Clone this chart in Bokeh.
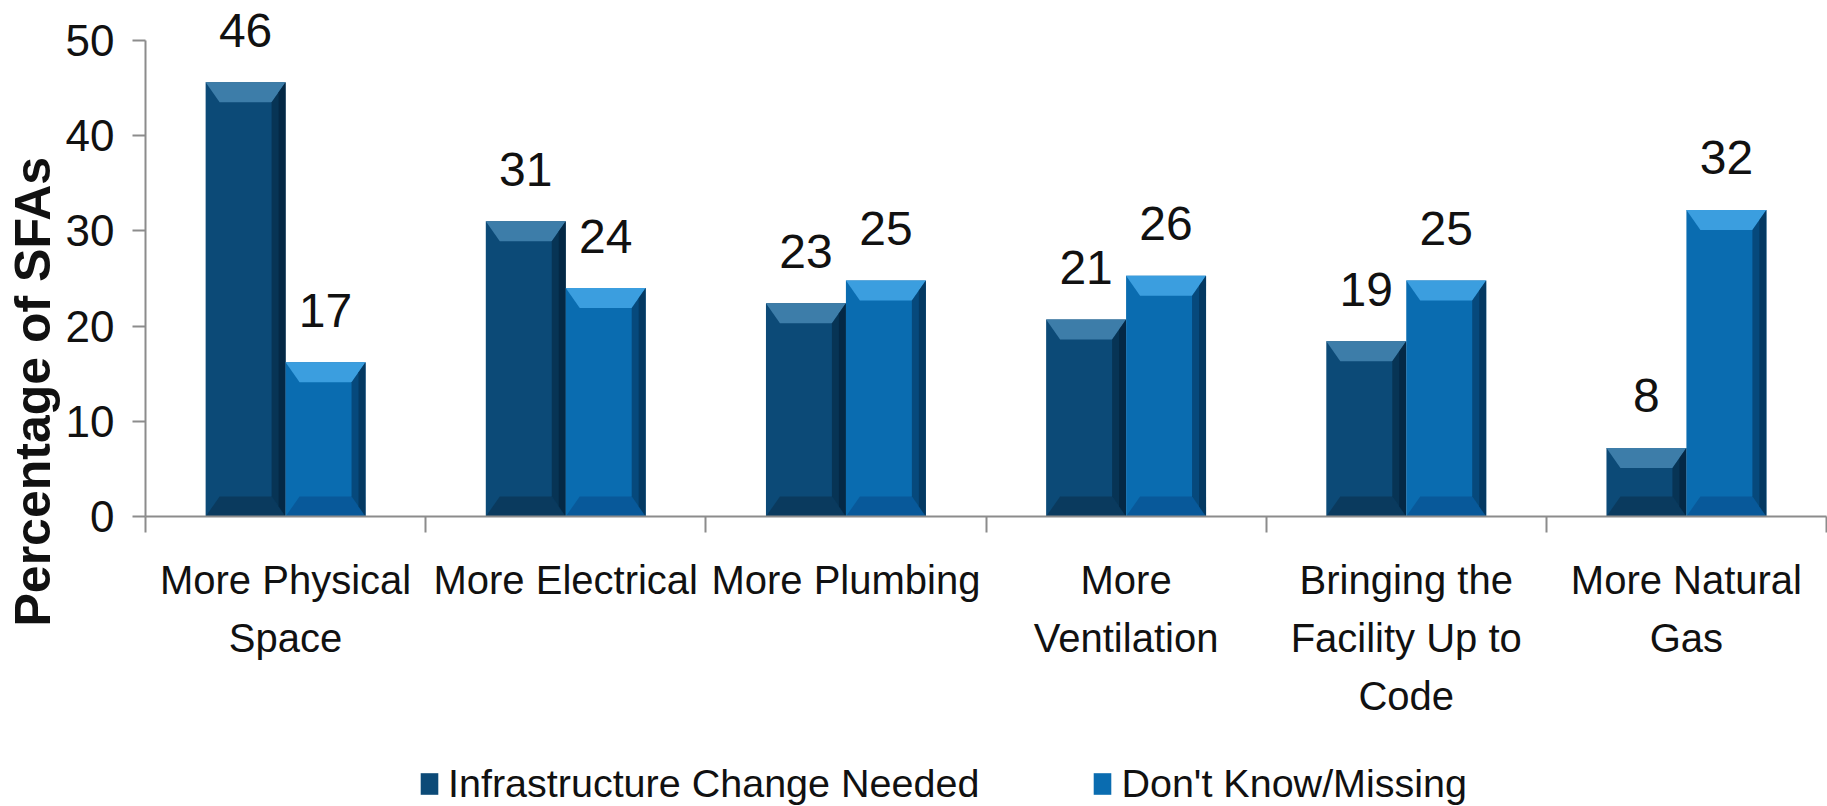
from bokeh.plotting import figure
from bokeh.layouts import column
from bokeh.models import Range1d, FixedTicker, Legend, LegendItem, ColumnDataSource, Title
from bokeh.core.properties import value
from bokeh.embed import file_html
from bokeh.resources import INLINE

# ---------------- data ----------------
categories = ["More Physical Space", "More Electrical", "More Plumbing",
              "More Ventilation", "Bringing the Facility Up to Code", "More Natural Gas"]
tick_labels = ["More Physical\nSpace", "More Electrical", "More Plumbing",
               "More\nVentilation", "Bringing the\nFacility Up to\nCode", "More Natural\nGas"]
series_names = ["Infrastructure Change Needed", "Don't Know/Missing"]
change_needed = [45.6, 31.0, 22.4, 20.7, 18.4, 7.2]
dont_know = [16.2, 24.0, 24.8, 25.3, 24.8, 32.2]
change_labels = ["46", "31", "23", "21", "19", "8"]
dont_know_labels = ["17", "24", "25", "26", "25", "32"]
y_ticks = [0, 10, 20, 30, 40, 50]
y_title = "Percentage of SFAs"

# ---------------- style ----------------
FONT = "Liberation Sans"
W = 1827
MAIN_H, LEG_H = 756, 50
LEFT, RIGHT, TOP, BOTTOM = 144, 1, 0, 240
frame_w = W - LEFT - RIGHT
frame_h = MAIN_H - TOP - BOTTOM
n = len(categories)
y_max_view = 54.2
px_x = frame_w / n
px_y = frame_h / y_max_view
bar_w = 80 / px_x
bx = 14 / px_x
by = 20 / px_y

palettes = [
    dict(body="#0C4A77", top="#3D7DA9", bottom="#0A3A5E", right="#03223A"),
    dict(body="#0A6CB0", top="#3B9EDF", bottom="#08599A", right="#032E52"),
]
AXIS_COLOR = "#8C8C8C"
TEXT_COLOR = "#111111"

p = figure(width=W, height=MAIN_H, output_backend="svg", toolbar_location=None,
           x_range=Range1d(0, n), y_range=Range1d(0, y_max_view),
           min_border_left=LEFT, min_border_right=RIGHT,
           min_border_top=TOP, min_border_bottom=BOTTOM)
p.outline_line_color = None
p.xgrid.visible = False
p.ygrid.visible = False
p.background_fill_color = "white"

series_values = [change_needed, dont_know]
series_labels = [change_labels, dont_know_labels]
for s, (vals, labs) in enumerate(zip(series_values, series_labels)):
    pal = palettes[s]
    lefts = [i + 0.5 - bar_w + s * bar_w for i in range(n)]
    rights = [l + bar_w for l in lefts]
    src = ColumnDataSource(dict(left=lefts, right=rights, top=vals, bottom=[0] * n))
    p.quad(left="left", right="right", top="top", bottom="bottom", source=src,
           fill_color=pal["body"], line_color=None)
    top_xs, top_ys, bot_xs, bot_ys, r_xs, r_ys, r2_xs, r2_ys = [], [], [], [], [], [], [], []
    for l, r, v in zip(lefts, rights, vals):
        top_xs.append([l, r, r - bx, l + bx]); top_ys.append([v, v, v - by, v - by])
        bot_xs.append([l, r, r - bx, l + bx]); bot_ys.append([0, 0, by, by])
        r_xs.append([r, r, r - bx, r - bx]); r_ys.append([v, 0, by, v - by])
        r2_xs.append([r, r, r - bx / 2, r - bx / 2]); r2_ys.append([v, 0, by / 2, v - by / 2])
    p.patches(xs=bot_xs, ys=bot_ys, fill_color=pal["bottom"], line_color=None)
    p.patches(xs=top_xs, ys=top_ys, fill_color=pal["top"], line_color=None)
    p.patches(xs=r_xs, ys=r_ys, fill_color=pal["right"], fill_alpha=0.55, line_color=None)
    p.patches(xs=r2_xs, ys=r2_ys, fill_color=pal["right"], fill_alpha=0.6, line_color=None)
    centers = [(l + r) / 2 for l, r in zip(lefts, rights)]
    p.text(x=centers, y=vals, text=labs, text_align="center", text_baseline="alphabetic",
           y_offset=-52, text_font=value(FONT), text_font_size="48px", text_color=TEXT_COLOR)

# y axis
ya = p.yaxis[0]
ya.ticker = FixedTicker(ticks=y_ticks)
ya.bounds = (0, 50)
ya.axis_line_color = AXIS_COLOR
ya.axis_line_width = 2
ya.major_tick_line_color = AXIS_COLOR
ya.major_tick_line_width = 2
ya.major_tick_out = 13
ya.major_tick_in = 0
ya.minor_tick_line_color = None
ya.major_label_standoff = 18
ya.major_label_text_font = FONT
ya.major_label_text_font_size = "44px"
ya.major_label_text_color = TEXT_COLOR

# y title (starts below the frame's bottom in the reference)
p.add_layout(Title(text=y_title, align="left", offset=-110, standoff=4,
                   text_font=FONT, text_font_size="50px", text_font_style="bold",
                   text_color=TEXT_COLOR), "left")

# x axis
xa = p.xaxis[0]
xa.ticker = FixedTicker(ticks=[i + 0.5 for i in range(n)], minor_ticks=list(range(n + 1)))
xa.major_label_overrides = {i + 0.5: t for i, t in enumerate(tick_labels)}
xa.axis_line_color = AXIS_COLOR
xa.axis_line_width = 2
xa.major_tick_line_color = None
xa.major_tick_out = 0
xa.major_tick_in = 0
xa.minor_tick_line_color = AXIS_COLOR
xa.minor_tick_line_width = 2
xa.minor_tick_out = 16
xa.minor_tick_in = 0
xa.major_label_standoff = 25
xa.major_label_text_font = FONT
xa.major_label_text_font_size = "40px"
xa.major_label_text_line_height = 1.32
xa.major_label_text_color = TEXT_COLOR

# legend strip below the chart (its frame is aligned with the chart's frame)
lf = figure(width=W, height=LEG_H, output_backend="svg", toolbar_location=None,
            x_range=Range1d(0, 1), y_range=Range1d(0, 1),
            min_border_left=LEFT, min_border_right=RIGHT, min_border_top=0, min_border_bottom=0)
lf.axis.visible = False
lf.grid.visible = False
lf.outline_line_color = None
legend_items = []
for s in range(2):
    # legend swatches only: one out-of-view quad per series
    r = lf.quad(left=[-3], right=[-2], top=[-2], bottom=[-3], fill_color=palettes[s]["body"],
                line_color=None)
    legend_items.append(LegendItem(label=series_names[s], renderers=[r]))
legend = Legend(items=legend_items, orientation="horizontal", location=(273, 0),
                glyph_width=22, glyph_height=27, label_standoff=8, spacing=112,
                padding=0, margin=0, border_line_color=None, background_fill_alpha=0,
                label_text_font=FONT, label_text_font_size="39.5px", label_text_color=TEXT_COLOR)
lf.add_layout(legend, "center")

layout = column(p, lf, spacing=0)
open("out.html", "w").write(file_html(layout, INLINE))
